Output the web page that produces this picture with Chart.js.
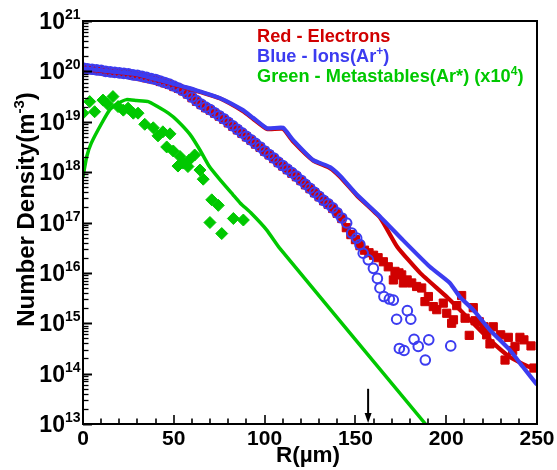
<!DOCTYPE html>
<html>
<head>
<meta charset="utf-8">
<script src="https://cdn.jsdelivr.net/npm/chart.js@4.4.0/dist/chart.umd.min.js"></script>
<style>
  html, body { margin: 0; padding: 0; background: #fff; }
  #wrap { width: 557px; height: 470px; }
</style>
</head>
<body>
<div id="wrap"><canvas id="c" width="557" height="470"></canvas></div>
<script>
// ---- Radial profiles, R in micrometres, densities in m^-3 ----

// Electrons, measured (squares)
const electronsExpR = [0, 2.5, 5, 7.5, 10, 12.5, 15, 17.5, 20, 22.5, 25, 27.5, 30, 32.5, 35, 37.5, 40, 42.5, 45, 47.5,
  50, 52.5, 55, 57.5, 60, 62.5, 65, 67.5, 70, 72.5, 75, 77.5, 80, 82.5, 85, 87.5, 90, 92.5, 95, 97.5,
  100, 102.5, 105, 107.5, 110, 112.5, 115, 117.5, 120, 122.5, 125, 127.5, 130, 132.5, 135, 137.5, 140,
  142.5, 145, 147.5, 150, 152.5, 155, 157.5, 160, 162.5, 165.4, 168.1, 170.9, 171.8, 174, 175.5, 176.4,
  178.5, 181, 183.7, 186.5, 188.3, 190.2, 192.9, 194.8, 198.4, 200.3, 203, 204, 205.8, 208.5, 210.4,
  212.7, 214.9, 215.9, 218.2, 220.8, 222.3, 224.1, 225.9, 230, 232.4, 234.2, 236.6, 237.9, 240.6,
  242.8, 246.7, 248.3];
const electronsExpN = [1.15e20, 1.10e20, 1.08e20, 1.05e20, 1.03e20, 9.9e19, 9.6e19, 9.4e19, 9.2e19, 9.0e19,
  8.7e19, 8.4e19, 8.1e19, 7.8e19, 7.4e19, 7.1e19, 6.8e19, 6.3e19, 5.9e19, 5.5e19,
  5.0e19, 4.6e19, 4.1e19, 3.55e19, 3.0e19, 2.55e19, 2.2e19, 1.9e19, 1.7e19, 1.48e19,
  1.29e19, 1.12e19, 9.5e18, 8.1e18, 6.9e18, 5.9e18, 5.0e18, 4.3e18, 3.6e18, 3.1e18,
  2.6e18, 2.2e18, 1.86e18, 1.55e18, 1.32e18, 1.12e18, 9.5e17, 8.1e17, 6.8e17, 5.6e17,
  4.7e17, 3.9e17, 3.25e17, 2.7e17, 2.3e17, 1.9e17, 1.52e17,
  1.2e17, 7.9e16, 5.75e16, 4.57e16, 3.47e16, 2.82e16, 2.51e16, 2.24e16, 2.0e16, 1.66e16,
  1.32e16, 7.24e15, 1.07e16, 1.0e16, 9.12e15, 6.31e15, 7.24e15, 6.31e15, 5.37e15, 5.01e15,
  2.69e15, 3.39e15, 2.14e15, 1.86e15, 2.51e15, 1.58e15, 1.0e15, 1.17e15, 2.24e15, 3.55e15,
  1.26e15, 5.75e14, 2.04e15, 1.12e15, 1.07e15, 8.51e14, 5.89e14, 3.89e14, 8.51e14, 5.89e14,
  1.86e14, 5.25e14, 2.88e14, 3.47e14, 5.25e14, 4.68e14, 3.55e14, 1.29e14];

// Ions Ar+, measured (open circles)
const ionsExpR = [0, 2.5, 5, 7.5, 10, 12.5, 15, 17.5, 20, 22.5, 25, 27.5, 30, 32.5, 35, 37.5, 40, 42.5, 45, 47.5,
  50, 52.5, 55, 57.5, 60, 62.5, 65, 67.5, 70, 72.5, 75, 77.5, 80, 82.5, 85, 87.5, 90, 92.5, 95, 97.5,
  100, 102.5, 105, 107.5, 110, 112.5, 115, 117.5, 120, 122.5, 125, 127.5, 130, 132.5, 135, 137.5, 140,
  142.5, 145.2, 148, 150.7, 152.5, 154.3, 157.1, 159.9, 162.1, 163.5, 165.7, 168.7, 170.9,
  172.7, 174.2, 176.8, 178.6, 180.5, 182.3, 184.6, 188.5, 190.4, 202.5];
const ionsExpN = [1.17e20, 1.12e20, 1.10e20, 1.07e20, 1.05e20, 1.00e20, 9.77e19, 9.55e19, 9.33e19, 9.12e19,
  8.91e19, 8.51e19, 8.32e19, 7.94e19, 7.59e19, 7.24e19, 6.92e19, 6.46e19, 6.03e19, 5.62e19,
  5.13e19, 4.68e19, 4.17e19, 3.63e19, 3.09e19, 2.63e19, 2.24e19, 1.95e19, 1.74e19, 1.51e19,
  1.32e19, 1.15e19, 9.77e18, 8.32e18, 7.08e18, 6.03e18, 5.13e18, 4.37e18, 3.72e18, 3.16e18,
  2.63e18, 2.24e18, 1.91e18, 1.58e18, 1.35e18, 1.15e18, 9.77e17, 8.32e17, 6.92e17, 5.75e17,
  4.79e17, 3.98e17, 3.31e17, 2.75e17, 2.34e17, 1.95e17, 1.55e17,
  1.23e17, 9.77e16, 6.17e16, 4.90e16, 3.63e16, 2.45e16, 1.82e16, 1.23e16, 7.76e15, 5.01e15,
  3.39e15, 3.02e15, 2.88e15,
  1.20e15, 3.16e14, 2.88e14, 1.78e15, 1.20e15, 4.79e14, 3.47e14, 1.86e14, 4.68e14, 3.55e14];

// Metastables Ar*, measured (diamonds, scaled x10^4)
const metaExpR = [0, 3.7, 6.4, 11, 13.5, 16.5, 19.3, 22.2, 24.8, 27.7, 30.3, 34, 38.7, 41.3, 44, 47.9,
  46.1, 49.7, 53.4, 52.3, 55.2, 57.8, 58.5, 61.5, 64.4, 66.2, 70.9, 74.5, 69.9, 76.4, 82.8, 88.3];
const metaExpN = [1.48e19, 2.51e19, 1.58e19, 2.69e19, 2.24e19, 3.16e19, 2.0e19, 1.70e19, 1.86e19, 1.48e19,
  1.48e19, 8.91e18, 7.59e18, 5.25e18, 6.31e18, 5.75e18, 3.16e18, 2.63e18, 2.04e18, 1.32e18,
  1.51e18, 1.29e18, 1.74e18, 2.19e18, 1.10e18, 7.24e17, 2.82e17, 2.19e17, 1.0e17, 6.03e16,
  1.20e17, 1.12e17];

// Model curves (solid lines)
const electronsSimR = [0, 15, 30, 45, 50, 58, 64.4, 75.4, 88.1, 93.6, 101.3, 110.1, 115.6, 126.7, 136, 141.5,
  150.9, 163.5, 173, 185.6, 200.4, 213, 224, 235, 246, 250];
const electronsSimN = [1.12e20, 9.8e19, 8.5e19, 6.2e19, 5.5e19, 4.6e19, 3.9e19, 2.9e19, 1.62e19, 1.15e19,
  7.2e18, 7.2e18, 4.1e18, 1.7e18, 1.2e18, 8.1e17, 3.4e17, 1.26e17, 3.31e16, 1.0e16,
  3.31e15, 1.17e15, 4.68e14, 2.14e14, 1.35e14, 1.29e14];

const ionsSimR = [0, 15, 30, 45, 50, 58, 64.4, 75.4, 88.1, 93.6, 101.3, 110.1, 115.6, 126.7, 136, 141.5,
  150.9, 163.5, 176.2, 191, 202, 207.6, 214.8, 224, 235, 242.3, 250];
const ionsSimN = [1.15e20, 1.0e20, 8.7e19, 6.3e19, 5.6e19, 4.7e19, 3.98e19, 2.95e19, 1.70e19, 1.20e19,
  7.41e18, 7.59e18, 4.37e18, 1.74e18, 1.26e18, 8.51e17, 3.55e17, 1.32e17, 4.47e16, 1.32e16,
  6.31e15, 3.31e15, 1.86e15, 7.41e14, 2.95e14, 1.35e14, 6.03e13];

const metaSimR = [0, 2, 4.5, 10.3, 15, 19.5, 24, 29.5, 36, 41, 47, 52, 58.9, 64.4, 69.4, 75.4, 82.6, 86.5,
  92.8, 101.2, 108.5, 188.6];
const metaSimN = [8.1e17, 2.0e18, 3.72e18, 9.33e18, 1.78e19, 2.34e19, 2.75e19, 2.63e19, 2.51e19, 2.0e19,
  1.48e19, 1.05e19, 5.62e18, 2.75e18, 1.32e18, 7.08e17, 3.55e17, 2.45e17, 1.51e17, 7.08e16,
  3.02e16, 1.0e13];

// Axis ticks
const xTickValues = [0, 50, 100, 150, 200, 250];
const yDecades = [13, 14, 15, 16, 17, 18, 19, 20, 21];

// Arrow marking the radius of interest
const arrowR = 157;
const arrowFromN = 5.0e13;

const legendLines = [
  { color: '#d00000', parts: [['Red - Electrons', false]] },
  { color: '#3c3cf0', parts: [['Blue - Ions(Ar', false], ['+', true], [')', false]] },
  { color: '#00c800', parts: [['Green - Metastables(Ar*) (x10', false], ['4', true], [')', false]] }
];

const RED = '#d00000', BLUE = '#3c3cf0', GREEN = '#00c800';
const FAMILY = '"Liberation Sans", Arial, Helvetica, sans-serif';

function pts(xs, ys) { return xs.map((x, i) => ({ x: x, y: ys[i] })); }

function runsWidth(ctx, parts, size, supSize) {
  let w = 0;
  parts.forEach(([t, sup]) => {
    ctx.font = 'bold ' + (sup ? supSize : size) + 'px ' + FAMILY;
    w += ctx.measureText(t).width;
  });
  return w;
}
function drawRuns(ctx, parts, x, y, size, supSize, rise) {
  let cx = x;
  parts.forEach(([t, sup]) => {
    ctx.font = 'bold ' + (sup ? supSize : size) + 'px ' + FAMILY;
    ctx.fillText(t, cx, sup ? y - rise : y);
    cx += ctx.measureText(t).width;
  });
}

const axesPlugin = {
  id: 'tecAxes',
  afterDatasetsDraw(chart) {
    const ctx = chart.ctx, a = chart.chartArea;
    const xs = chart.scales.x, ys = chart.scales.y;
    ctx.save();
    ctx.strokeStyle = '#000';
    ctx.fillStyle = '#000';

    // inward tick marks on the bottom axis
    ctx.lineWidth = 1.6;
    for (let v = 0; v <= 250; v += 10) {
      const px = Math.round(xs.getPixelForValue(v));
      const len = (v % 50 === 0) ? 9 : 5.5;
      ctx.beginPath(); ctx.moveTo(px, a.bottom); ctx.lineTo(px, a.bottom - len); ctx.stroke();
    }
    // inward tick marks on the left axis
    yDecades.forEach(e => {
      for (let m = 1; m <= 9; m++) {
        const v = m * Math.pow(10, e);
        if (v > 1.0001e21) break;
        const py = Math.round(ys.getPixelForValue(v)) + 0.5;
        const len = m === 1 ? 9 : 5.5;
        ctx.lineWidth = m === 1 ? 2 : 1.3;
        ctx.beginPath(); ctx.moveTo(a.left, py); ctx.lineTo(a.left + len, py); ctx.stroke();
      }
    });

    // frame
    ctx.lineWidth = 2;
    ctx.strokeRect(a.left, a.top, a.right - a.left, a.bottom - a.top);

    // arrow
    const ax = xs.getPixelForValue(arrowR);
    const ay0 = ys.getPixelForValue(arrowFromN), ay1 = ys.getPixelForValue(1e13);
    ctx.lineWidth = 2;
    ctx.beginPath(); ctx.moveTo(ax, ay0); ctx.lineTo(ax, ay1 - 9); ctx.stroke();
    ctx.beginPath(); ctx.moveTo(ax - 3.5, ay1 - 11); ctx.lineTo(ax + 3.5, ay1 - 11); ctx.lineTo(ax, ay1 - 1); ctx.closePath(); ctx.fill();

    // x tick labels
    ctx.textBaseline = 'alphabetic';
    ctx.font = 'bold 21px ' + FAMILY;
    xTickValues.forEach(v => {
      const t = String(v);
      const w = ctx.measureText(t).width;
      ctx.fillText(t, xs.getPixelForValue(v) - w / 2, a.bottom + 21);
    });
    // y tick labels 10^n
    yDecades.forEach(e => {
      const parts = [['10', false], [String(e), true]];
      const w = runsWidth(ctx, parts, 23, 14);
      const py = ys.getPixelForValue(Math.pow(10, e));
      drawRuns(ctx, parts, 80.5 - w, py + 8, 23, 14, 10);
    });

    // axis titles
    const xt = [['R(\u00b5m)', false]];
    const xw = runsWidth(ctx, xt, 22.5, 13);
    drawRuns(ctx, xt, (a.left + a.right) / 2 - 2 - xw / 2, 461.5, 22.5, 13, 9);

    const yt = [['Number Density(m', false], ['-3', true], [')', false]];
    const yw = runsWidth(ctx, yt, 24, 15);
    ctx.save();
    ctx.translate(33.5, (a.top + a.bottom) / 2 - 13);
    ctx.rotate(-Math.PI / 2);
    drawRuns(ctx, yt, -yw / 2, 0, 24, 15, 10);
    ctx.restore();

    // legend text
    legendLines.forEach((ln, i) => {
      ctx.fillStyle = ln.color;
      drawRuns(ctx, ln.parts, 257, 41.7 + i * 20.3, 18.2, 12, 7.5);
    });
    ctx.restore();
  }
};

new Chart(document.getElementById('c'), {
  type: 'scatter',
  data: {
    datasets: [
      { label: 'Ions (model)', data: pts(ionsSimR, ionsSimN), showLine: true, borderColor: BLUE,
        borderWidth: 4.2, pointRadius: 0, tension: 0.15, order: 1 },
      { label: 'Electrons (model)', data: pts(electronsSimR, electronsSimN), showLine: true, borderColor: RED,
        borderWidth: 4.2, pointRadius: 0, tension: 0.15, order: 2 },
      { label: 'Ions', data: pts(ionsExpR, ionsExpN), pointStyle: 'circle', pointRadius: 4.8,
        pointBorderWidth: 2, borderColor: BLUE, backgroundColor: 'rgba(0,0,0,0)', order: 3 },
      { label: 'Electrons', data: pts(electronsExpR, electronsExpN), pointStyle: 'rect', pointRadius: 5.8,
        pointBorderWidth: 1, borderColor: RED, backgroundColor: RED, order: 4 },
      { label: 'Metastables (model)', data: pts(metaSimR, metaSimN), showLine: true, borderColor: GREEN,
        borderWidth: 3.5, pointRadius: 0, tension: 0.15, order: 5 },
      { label: 'Metastables', data: pts(metaExpR, metaExpN), pointStyle: 'rectRot', pointRadius: 6,
        pointBorderWidth: 1, borderColor: GREEN, backgroundColor: GREEN, order: 6 }
    ]
  },
  options: {
    responsive: false,
    animation: false,
    devicePixelRatio: 1,
    events: [],
    layout: { padding: { left: 83, right: 20, top: 21, bottom: 46 } },
    plugins: { legend: { display: false }, tooltip: { enabled: false } },
    scales: {
      x: { type: 'linear', min: 0, max: 250, display: false },
      y: { type: 'logarithmic', min: 1e13, max: 1e21, display: false }
    }
  },
  plugins: [axesPlugin]
});
</script>
</body>
</html>
